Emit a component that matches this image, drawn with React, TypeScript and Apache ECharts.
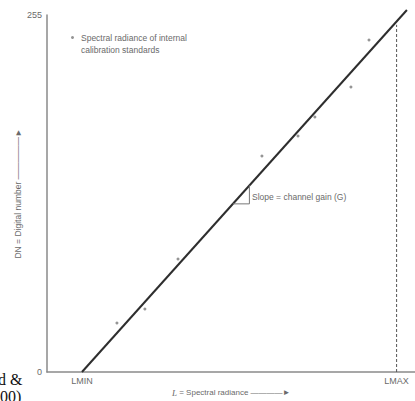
import React, { useEffect, useRef } from 'react';
import * as echarts from 'echarts';

const LMIN = 9.5;
const LMAX = 95;
const X_MIN = 0;
const X_MAX = 100;
const DN_MIN = 0;
const DN_MAX = 255;
const LMAX_LINE_TOP = 248;

const calibL = [19.0, 26.6, 35.6, 58.4, 68.2, 72.8, 82.6, 87.5];
const calibDN = [35.0, 45.0, 80.7, 154.3, 168.6, 182.1, 203.6, 237.1];

const fitL = [LMIN, 97.8];
const fitDN = [0, 258.6];

const slopeL = [50.5, 55.0, 55.0];
const slopeDN = [120.1, 120.1, 133.3];

const xTickValues = [LMIN, LMAX];
const xTickLabels = ['LMIN', 'LMAX'];

const legendLine1 = 'Spectral radiance of internal';
const legendLine2 = 'calibration standards';

export default function App() {
  const ref = useRef<HTMLDivElement>(null);
  useEffect(() => {
    if (!ref.current) return;
    const chart = echarts.init(ref.current, null, { renderer: 'svg' });
    const gray = '#8a8a8a';
    const txt = '#6a6a6a';
    const font = 'Liberation Sans, Arial, sans-serif';
    chart.setOption({
      animation: false,
      backgroundColor: '#ffffff',
      grid: { left: 47, right: 0, top: 15, bottom: 29 },
      legend: {
        left: 71,
        top: 33,
        icon: 'circle',
        itemWidth: 3,
        itemHeight: 3,
        itemGap: 4,
        padding: 0,
        data: [legendLine1],
        textStyle: { fontSize: 8.5, color: txt, fontFamily: font, padding: [0, 0, 0, 2] },
      },
      xAxis: {
        type: 'value',
        min: X_MIN,
        max: X_MAX,
        axisLine: { show: true, lineStyle: { color: gray, width: 1.5 } },
        axisTick: { show: false },
        splitLine: { show: false },
        axisLabel: {
          customValues: xTickValues,
          formatter: (v: number) => xTickLabels[xTickValues.indexOf(v)] ?? '',
          color: txt,
          fontSize: 9,
          fontFamily: font,
          margin: 4,
        },
      },
      yAxis: {
        type: 'value',
        min: DN_MIN,
        max: DN_MAX,
        interval: DN_MAX,
        axisLine: { show: true, lineStyle: { color: gray, width: 1.5 } },
        axisTick: { show: false },
        splitLine: { show: false },
        axisLabel: { color: txt, fontSize: 9, fontFamily: font, margin: 5 },
        name: 'DN = Digital number —————►',
        nameLocation: 'middle',
        nameRotate: 90,
        nameGap: 25,
        nameMoveOverlap: false,
        nameTextStyle: { color: txt, fontSize: 8.5, fontFamily: font },
      },
      series: [
        {
          name: 'fit',
          type: 'line',
          data: fitL.map((x, i) => [x, fitDN[i]]),
          symbol: 'none',
          clip: false,
          lineStyle: { color: '#2e2e2e', width: 2 },
          z: 3,
        },
        {
          name: legendLine1,
          type: 'scatter',
          data: calibL.map((x, i) => [x, calibDN[i]]),
          symbol: 'circle',
          symbolSize: 3,
          itemStyle: { color: '#7a7a7a' },
          z: 4,
        },
        {
          name: 'LMAX line',
          type: 'line',
          data: [[LMAX, 0], [LMAX, LMAX_LINE_TOP]],
          symbol: 'none',
          lineStyle: { color: '#555', width: 1, type: [3, 2] },
        },
        {
          name: 'slope',
          type: 'line',
          data: slopeL.map((x, i) => [x, slopeDN[i]]),
          symbol: 'none',
          lineStyle: { color: '#777', width: 1 },
        },
      ],
      graphic: [
        {
          type: 'text',
          left: 81,
          top: 45,
          style: { text: legendLine2, fontSize: 8.5, fill: txt, fontFamily: font },
        },
        {
          type: 'text',
          left: 252,
          top: 192,
          style: { text: 'Slope = channel gain (G)', fontSize: 8.5, fill: txt, fontFamily: font },
        },
        {
          type: 'text',
          left: 172,
          top: 388,
          style: {
            text: '{i|L} = Spectral radiance ————►',
            fontSize: 8,
            fill: txt,
            fontFamily: font,
            rich: { i: { fontStyle: 'italic', fontFamily: 'Liberation Serif, serif', fontSize: 9, fill: txt } },
          },
        },
        {
          type: 'text',
          x: -2,
          y: 371,
          style: { text: 'd &', fontSize: 16, fill: '#111', fontFamily: 'Liberation Serif, serif' },
        },
        {
          type: 'text',
          x: 0,
          y: 388,
          style: { text: '00)', fontSize: 16, fill: '#111', fontFamily: 'Liberation Serif, serif' },
        },
      ],
    });
    return () => chart.dispose();
  }, []);
  return (
    <div
      ref={ref}
      style={{ position: 'fixed', left: 0, top: 0, width: 415, height: 401 }}
    />
  );
}
